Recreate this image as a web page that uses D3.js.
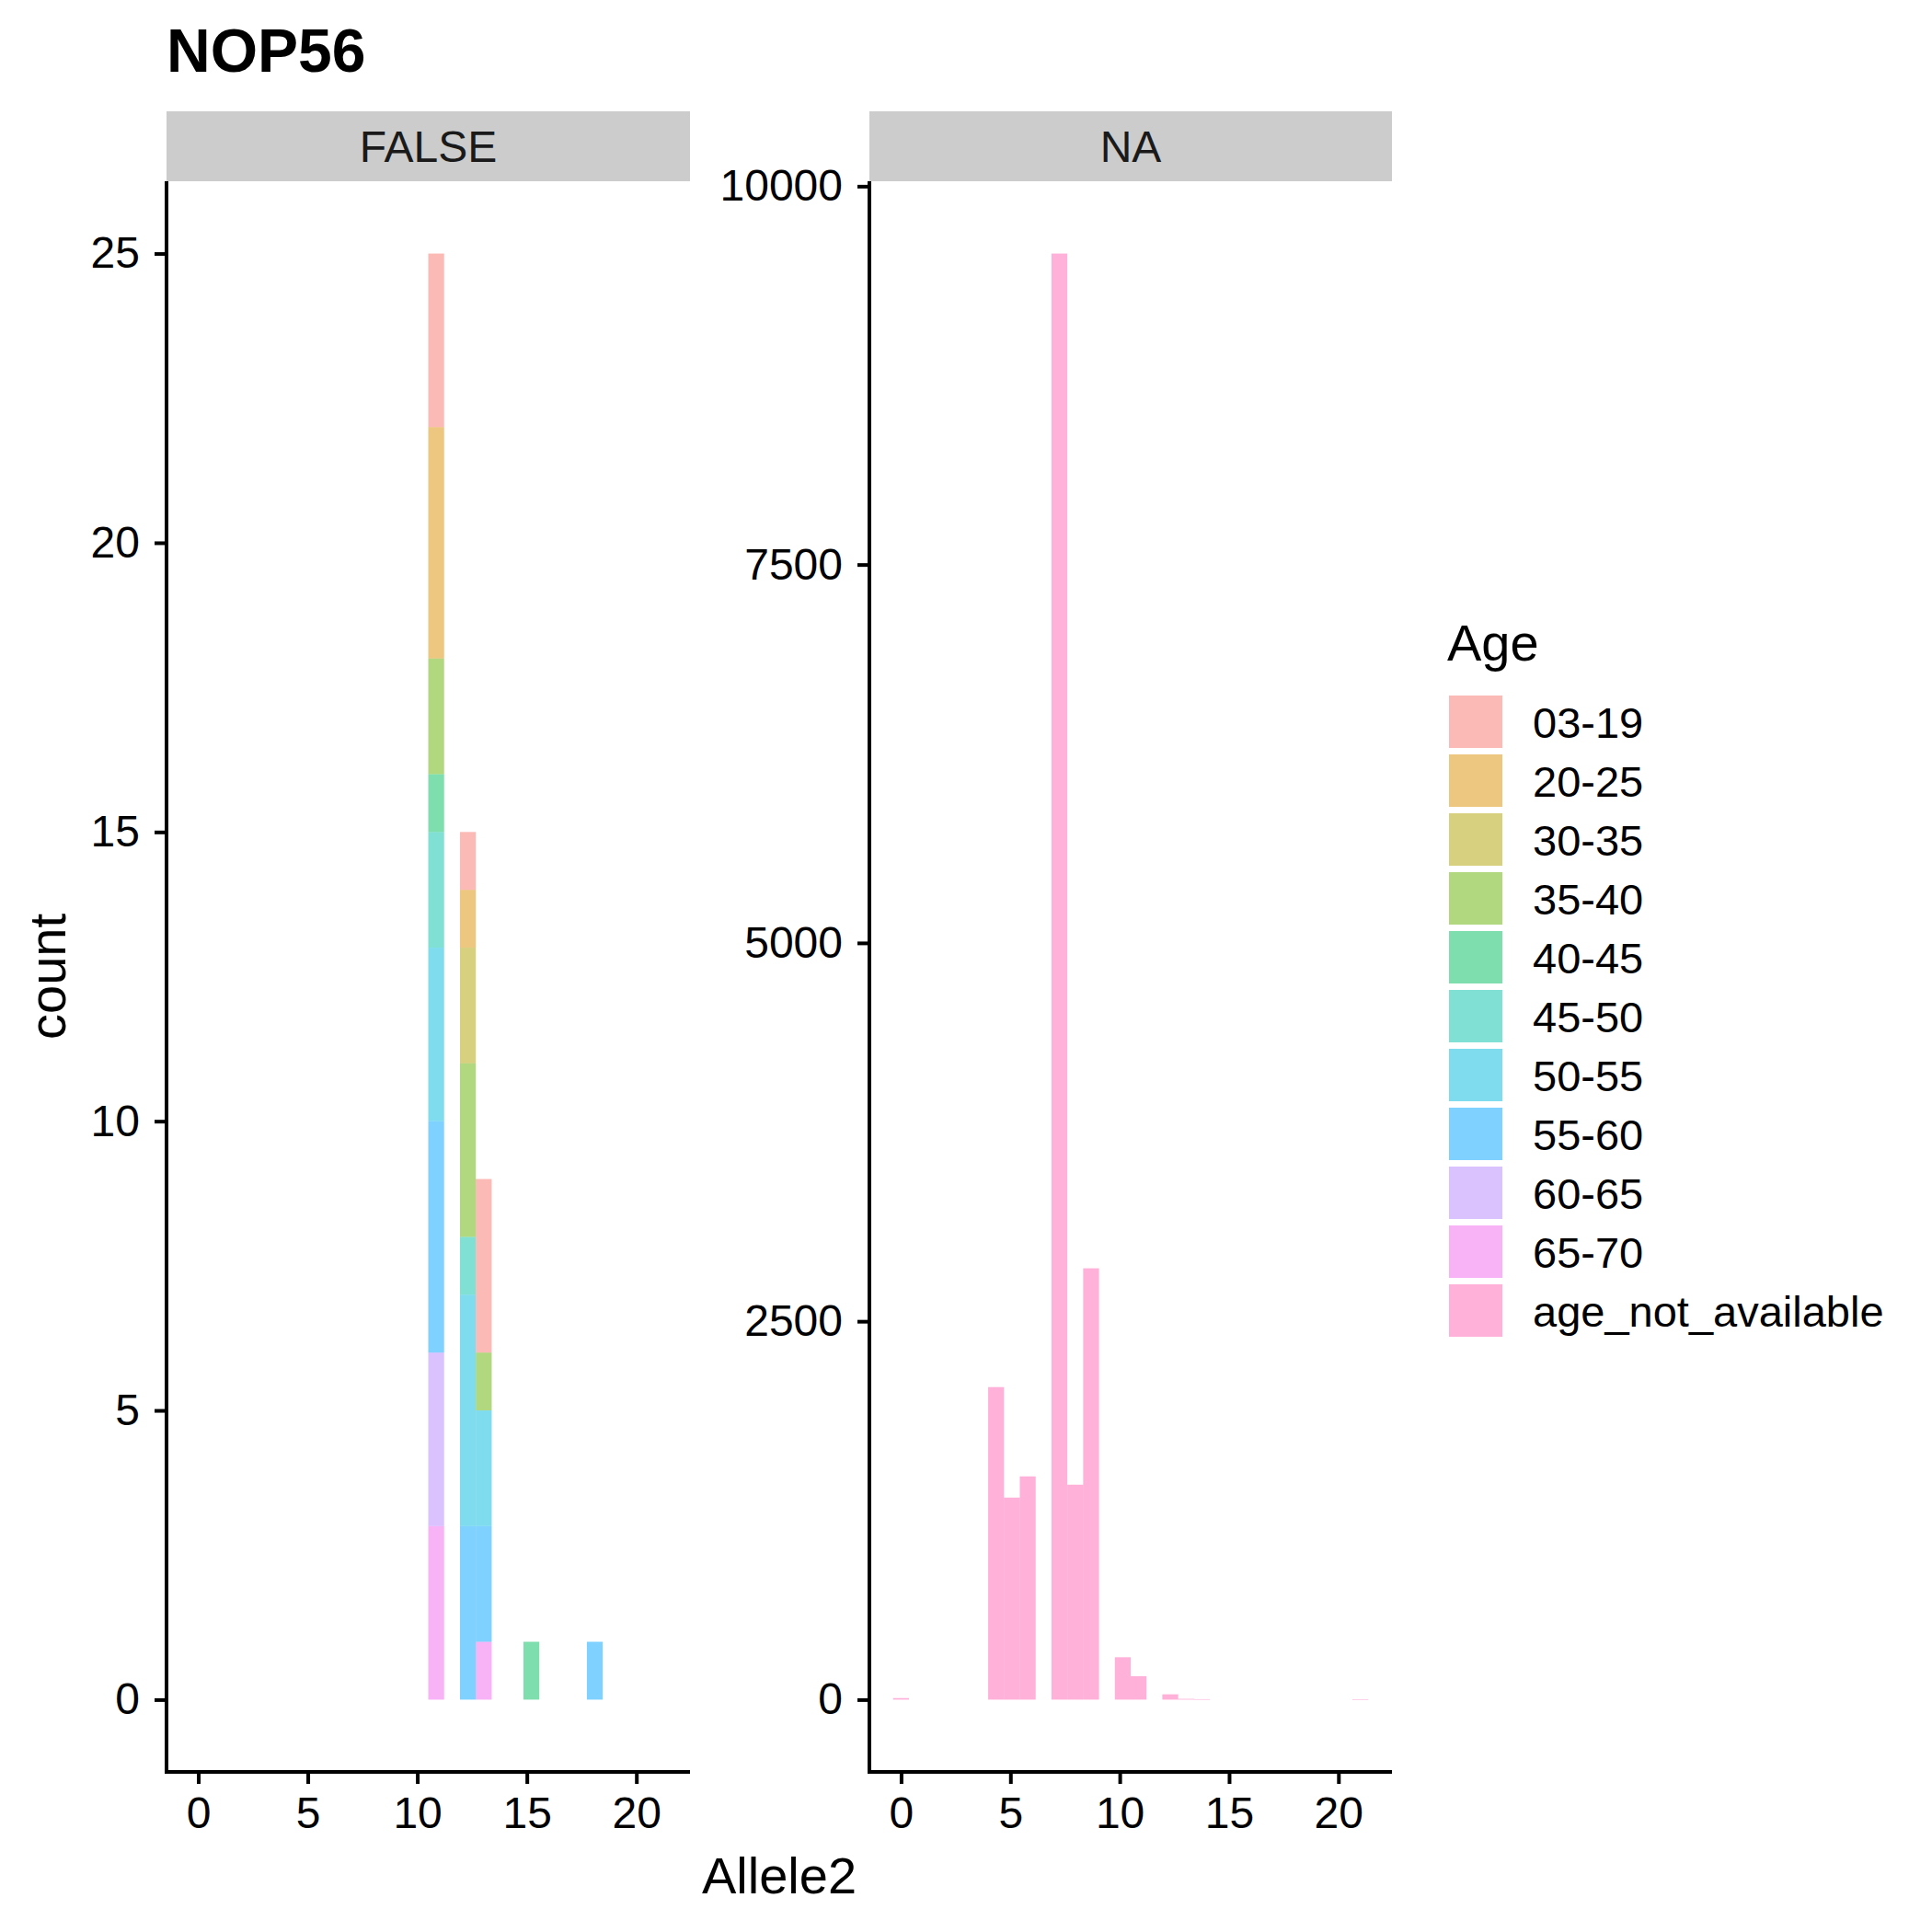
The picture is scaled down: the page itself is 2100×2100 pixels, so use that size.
<!DOCTYPE html>
<html>
<head>
<meta charset="utf-8">
<script src="https://cdn.jsdelivr.net/npm/d3@7"></script>
<style>
  html, body { margin: 0; padding: 0; background: #ffffff; }
  svg { display: block; }
  text { font-family: "Liberation Sans", Arial, Helvetica, sans-serif; }
</style>
</head>
<body>
<svg id="chart" width="2100" height="2100"></svg>
<script>
// ---------------- DATA ----------------
const chartTitle = "NOP56";
const facetLabels = ["FALSE", "NA"];
const ageLevels = ["03-19", "20-25", "30-35", "35-40", "40-45", "45-50",
                   "50-55", "55-60", "60-65", "65-70", "age_not_available"];
const ageColors = ["#F8766D", "#DB8E00", "#AEA200", "#64B200", "#00BD5C", "#00C1A7",
                   "#00BADE", "#00A6FF", "#B385FF", "#EF67EB", "#FF63B6"];

// histogram bin width (30 bins spanning Allele2 0..21)
const binWidth = 0.7241;

// FALSE facet: bin centres and per-age counts (ordered as ageLevels)
const falseBinCenters = [10.862, 12.310, 13.034, 15.207, 18.103];
const falseBin1 = [3, 4, 0, 2, 1, 2, 3, 4, 3, 3, 0];
const falseBin2 = [1, 1, 2, 3, 0, 1, 4, 3, 0, 0, 0];
const falseBin3 = [3, 0, 0, 1, 0, 0, 2, 2, 0, 1, 0];
const falseBin4 = [0, 0, 0, 0, 1, 0, 0, 0, 0, 0, 0];
const falseBin5 = [0, 0, 0, 0, 0, 0, 0, 1, 0, 0, 0];

// NA facet: all age_not_available
const naBinCenters = [0, 4.345, 5.069, 5.793, 7.241, 7.966, 8.690, 10.138, 10.862, 12.310, 13.034, 13.759, 21.0];
const naCounts     = [10, 2065, 1335, 1475, 9555, 1420, 2850, 280, 155, 35, 5, 3, 2];

const xTicks = [0, 5, 10, 15, 20];
const yTicksFalse = [0, 5, 10, 15, 20, 25];
const yTicksNA = [0, 2500, 5000, 7500, 10000];

// ---------------- LAYOUT ----------------
const svg = d3.select("#chart");
const panelTop = 197, panelBottom = 1926;
const stripTop = 121;
const panels = [
  { x0: 181, x1: 750, label: facetLabels[0] },
  { x0: 945, x1: 1513, label: facetLabels[1] }
];
const tickFont = 48;

// x domain: data extent incl. half-bins, expanded 5%
const xMin = 0 - binWidth / 2, xMax = 21 + binWidth / 2;
const xPad = 0.05 * (xMax - xMin);

function expandDomain(maxV) { return [-0.05 * maxV, maxV * 1.05]; }

// Build FALSE facet stacked data
const falseBins = [falseBin1, falseBin2, falseBin3, falseBin4, falseBin5];
const falseRows = falseBinCenters.map((c, i) => {
  const row = { center: c };
  ageLevels.forEach((a, j) => row[a] = falseBins[i][j]);
  return row;
});
// ggplot stacks first level on top -> stack keys in reverse order
const stackGen = d3.stack().keys(ageLevels.slice().reverse());
const falseStack = stackGen(falseRows);
const falseMax = d3.max(falseRows, r => d3.sum(ageLevels, a => r[a]));
const naMax = d3.max(naCounts);

const color = d3.scaleOrdinal().domain(ageLevels).range(ageColors);

function drawPanel(p, yDomain, yTicks, drawBars) {
  const x = d3.scaleLinear().domain([xMin - xPad, xMax + xPad]).range([p.x0, p.x1]);
  const y = d3.scaleLinear().domain(yDomain).range([panelBottom, panelTop]);

  // strip
  svg.append("rect").attr("x", p.x0).attr("y", stripTop)
    .attr("width", p.x1 - p.x0).attr("height", panelTop - stripTop)
    .attr("fill", "#CCCCCC");
  svg.append("text").attr("x", (p.x0 + p.x1) / 2).attr("y", 176)
    .attr("text-anchor", "middle").attr("font-size", tickFont).attr("fill", "#1A1A1A")
    .text(p.label);

  drawBars(svg.append("g"), x, y);

  // axes
  const gx = svg.append("g").attr("transform", `translate(0,${panelBottom})`)
    .call(d3.axisBottom(x).tickValues(xTicks).tickSize(13).tickPadding(14).tickSizeOuter(0));
  const gy = svg.append("g").attr("transform", `translate(${p.x0},0)`)
    .call(d3.axisLeft(y).tickValues(yTicks).tickFormat(d3.format("d")).tickSize(13).tickPadding(16).tickSizeOuter(0));
  [gx, gy].forEach(g => {
    g.select(".domain").remove();
    g.selectAll(".tick line").attr("stroke", "#000").attr("stroke-width", 4);
    g.selectAll(".tick text").attr("font-size", tickFont).attr("fill", "#000")
      .attr("font-family", "'Liberation Sans', Arial, sans-serif");
  });
  // axis lines
  svg.append("line").attr("x1", p.x0).attr("x2", p.x0)
    .attr("y1", panelTop).attr("y2", panelBottom + 2)
    .attr("stroke", "#000").attr("stroke-width", 4);
  svg.append("line").attr("x1", p.x0 - 2).attr("x2", p.x1)
    .attr("y1", panelBottom).attr("y2", panelBottom)
    .attr("stroke", "#000").attr("stroke-width", 4);
}

// FALSE panel
drawPanel(panels[0], expandDomain(falseMax), yTicksFalse, (g, x, y) => {
  falseStack.forEach(layer => {
    g.selectAll(null).data(layer.filter(d => d[1] - d[0] > 0)).enter().append("rect")
      .attr("x", d => x(d.data.center - binWidth / 2))
      .attr("width", d => x(d.data.center + binWidth / 2) - x(d.data.center - binWidth / 2))
      .attr("y", d => y(d[1]))
      .attr("height", d => y(d[0]) - y(d[1]))
      .attr("fill", color(layer.key)).attr("fill-opacity", 0.5);
  });
});

// NA panel
const naRows = naBinCenters.map((c, i) => ({ center: c, count: naCounts[i] }));
drawPanel(panels[1], expandDomain(naMax), yTicksNA, (g, x, y) => {
  g.selectAll(null).data(naRows).enter().append("rect")
    .attr("x", d => x(d.center - binWidth / 2))
    .attr("width", d => x(d.center + binWidth / 2) - x(d.center - binWidth / 2))
    .attr("y", d => y(d.count))
    .attr("height", d => Math.max(0.6, y(0) - y(d.count)))
    .attr("fill", color("age_not_available")).attr("fill-opacity", 0.5);
});

// title
svg.append("text").attr("x", 181).attr("y", 78)
  .attr("font-size", 66).attr("font-weight", "bold").attr("fill", "#000")
  .text(chartTitle);

// axis titles
svg.append("text").attr("x", (panels[0].x0 + panels[1].x1) / 2).attr("y", 2058)
  .attr("text-anchor", "middle").attr("font-size", 56).attr("fill", "#000")
  .text("Allele2");
svg.append("text").attr("transform", `translate(71,${(panelTop + panelBottom) / 2}) rotate(-90)`)
  .attr("text-anchor", "middle").attr("font-size", 56).attr("fill", "#000")
  .text("count");

// legend
const lg = svg.append("g");
lg.append("text").attr("x", 1573).attr("y", 718).attr("font-size", 56).attr("fill", "#000").text("Age");
ageLevels.forEach((a, i) => {
  const top = 756 + i * 64;
  lg.append("rect").attr("x", 1575).attr("y", top).attr("width", 58).attr("height", 57)
    .attr("fill", color(a)).attr("fill-opacity", 0.5);
  lg.append("text").attr("x", 1666).attr("y", top + 46).attr("font-size", 47).attr("fill", "#000").text(a);
});
</script>
</body>
</html>
